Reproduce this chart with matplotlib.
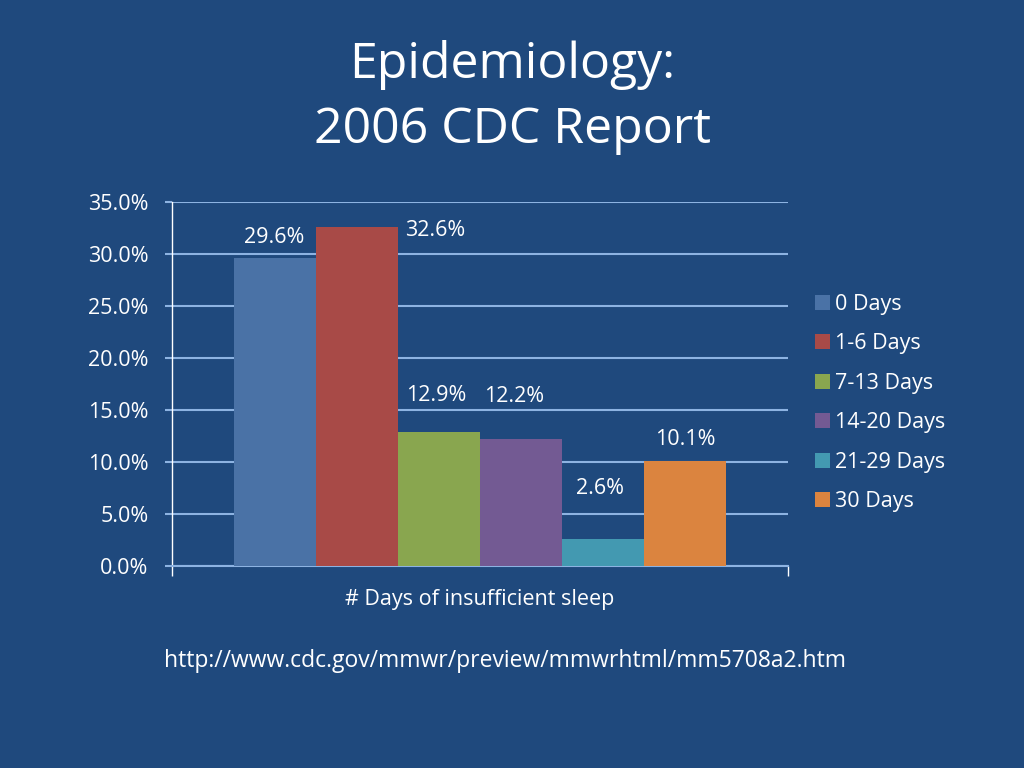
import numpy as np
import matplotlib
matplotlib.use("Agg")
from matplotlib import pyplot as plt

# chart data
categories = ["0 Days", "1-6 Days", "7-13 Days", "14-20 Days", "21-29 Days", "30 Days"]
percent = [29.6, 32.6, 12.9, 12.2, 2.6, 10.1]
y_ticks = [0, 5, 10, 15, 20, 25, 30, 35]

# styling
BG = "#1F497D"
GRID = "#8DB3E2"
bar_colors = ["#4A72A6", "#A84A47", "#89A64F", "#735A93", "#4399B1", "#DB843F"]
# data label offsets in pixels (dx, dy) from the top centre of each bar
label_offsets = [(0, 21), (78, -4), (-3, 36), (-7, 43), (-3, 50), (0, 21)]

plt.rcParams["font.family"] = ["Open Sans", "DejaVu Sans"]

fig = plt.figure(figsize=(10.24, 7.68), dpi=100, facecolor=BG)
ax = fig.add_axes([172 / 1024, 1 - 566 / 768, 616 / 1024, 364 / 768])
ax.set_facecolor(BG)

x = np.arange(len(categories))
bars = ax.bar(x, percent, width=1.0, color=bar_colors, label=categories, zorder=3)

half = len(categories) / 0.8 / 2
ax.set_xlim(2.5 - half, 2.5 + half)
ax.set_ylim(0, 35)
ax.set_yticks(y_ticks)
ax.set_yticklabels([f"{v:.1f}%" for v in y_ticks], color="white", fontsize=15.5)
ax.tick_params(axis="y", colors=GRID, labelcolor="white", length=5, width=1.5, pad=12)
ax.set_xticks([2.5 - half, 2.5 + half])
ax.set_xticklabels(["", ""])
ax.tick_params(axis="x", colors="white", length=7, width=1)
ax.grid(axis="y", color=GRID, linewidth=1.5, zorder=1)

for side in ["top", "right"]:
    ax.spines[side].set_visible(False)
ax.spines["left"].set_color("white")
ax.spines["left"].set_linewidth(1)
ax.spines["bottom"].set_color(GRID)
ax.spines["bottom"].set_linewidth(1.5)

for rect, val, (dx, dy) in zip(bars, percent, label_offsets):
    ax.annotate(f"{val:.1f}%", (rect.get_x() + rect.get_width() / 2, val),
                xytext=(dx, dy), textcoords="offset pixels",
                ha="center", va="center", color="white", fontsize=15.5)

ax.set_xlabel("# Days of insufficient sleep", color="white", fontsize=15.5, labelpad=6)

leg = fig.legend(loc="upper left", bbox_to_anchor=(804 / 1024, 1 - 283 / 768),
                 frameon=False, fontsize=15.5, handlelength=0.7, handleheight=0.7,
                 handletextpad=0.25, labelspacing=0.86, borderpad=0)
for t in leg.get_texts():
    t.set_color("white")

fig.text(512 / 1024, 1 - 65 / 768, "Epidemiology:", ha="center", va="center",
         color="white", fontsize=36)
fig.text(512 / 1024, 1 - 130 / 768, "2006 CDC Report", ha="center", va="center",
         color="white", fontsize=36)
fig.text(505 / 1024, 1 - 661 / 768, "http://www.cdc.gov/mmwr/preview/mmwrhtml/mm5708a2.htm",
         ha="center", va="center", color="white", fontsize=16.5)

fig.savefig("out.png", dpi=100, facecolor=BG)
